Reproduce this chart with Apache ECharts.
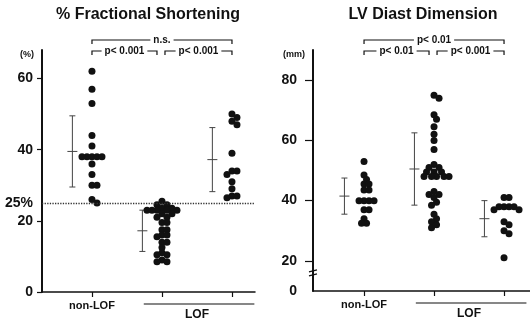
<!DOCTYPE html>
<html>
<head>
<meta charset="utf-8">
<script src="https://cdn.jsdelivr.net/npm/echarts@6/dist/echarts.min.js"></script>
<style>
  html, body { margin: 0; padding: 0; background: #fff; }
  #main { width: 530px; height: 322px; }
</style>
</head>
<body>
<div id="main"></div>
<script>
// groups on the x axis: 0 = non-LOF, 1 and 2 = LOF
const groupNames = ['non-LOF', 'LOF']

// % fractional shortening
const fsNonLof = [62, 57, 53, 44, 41, 38, 38, 38, 38, 38, 36, 33, 30, 30, 26, 25]
const fsLof1 = [25.5, 24.5, 24.5, 23.5, 23.5, 23, 23, 23, 23, 23, 22, 22, 21, 21, 19.5, 19.5, 17.5, 17.5, 16, 16, 15.5, 14, 14, 12.5, 11, 10.5, 10.5, 9, 8.5, 8.5]
const fsLof2 = [50, 49, 48, 47, 39, 34, 34, 33, 31, 29, 27, 27, 26.5]
const fsMean = [39.5, 17.2, 37.2]
const fsSd = [10, 5.8, 9]
const fsTicks = [0, 20, 40, 60]
const fsCutoff = 25

// LV diastolic dimension, mm
const ldNonLof = [53, 48.5, 47, 45.5, 45.5, 43.5, 43.5, 40, 40, 40, 40, 37, 37, 34, 32.5, 32.5]
const ldLof1 = [75, 74, 68.5, 67, 64.5, 62, 60, 57, 52, 51, 51, 49.5, 49.5, 49.5, 48, 48, 48, 48, 48, 43, 42, 42, 41, 39.5, 38.5, 35.5, 34, 33, 32, 31]
const ldLof2 = [41, 41, 38, 38, 38, 38, 37, 37, 33, 32, 30, 29, 21]
const ldMean = [41.5, 50.5, 34]
const ldSd = [6, 12, 6]
const ldTicks = [20, 40, 60, 80]

// comparisons: [from group, to group, label, row]
const fsTests = [[0, 2, 'n.s.', 0], [0, 1, 'p< 0.001', 1], [1, 2, 'p< 0.001', 1]]
const ldTests = [[0, 2, 'p< 0.01', 0], [0, 1, 'p< 0.01', 1], [1, 2, 'p< 0.001', 1]]

const FONT = '"Liberation Sans", Arial, sans-serif'
const INK = '#111'

// layout of the two panels
const panels = [
  { left: 42, top: 50, width: 213, height: 242, xMin: -0.714, xMax: 2.329, yMin: 0, yMax: 68 },
  { left: 313, top: 50, width: 217, height: 241, xMin: -0.729, xMax: 2.371, yMin: 10, yMax: 90 }
]

// simple beeswarm so that dots with close values sit side by side
function swarm(values, center, p) {
  const pxX = p.width / (p.xMax - p.xMin)
  const pxY = p.height / (p.yMax - p.yMin)
  const d = 5
  const placed = []
  return values.map(v => {
    const y = v * pxY
    let x = 0
    for (let k = 0; k < 40; k++) {
      const cands = k === 0 ? [0] : [k, -k]
      const hit = cands.find(c => placed.every(q => Math.hypot(q[0] - c * d / 2, q[1] - y) >= d))
      if (hit !== undefined) { x = hit * d / 2; break }
    }
    placed.push([x, y])
    return [center + x / pxX, v]
  })
}

function dots(groups, idx) {
  return {
    type: 'scatter',
    xAxisIndex: idx,
    yAxisIndex: idx,
    symbolSize: 7,
    itemStyle: { color: INK, opacity: 1 },
    silent: true,
    data: groups.flatMap((vals, g) => swarm(vals, g, panels[idx]))
  }
}

function errBars(mean, sd, idx) {
  return {
    type: 'custom',
    xAxisIndex: idx,
    yAxisIndex: idx,
    silent: true,
    data: mean.map((m, g) => [g - 0.28, m, sd[g]]),
    renderItem: (params, api) => {
      const x = api.value(0), m = api.value(1), s = api.value(2)
      const top = api.coord([x, m + s])
      const mid = api.coord([x, m])
      const bot = api.coord([x, m - s])
      const st = { stroke: '#444', lineWidth: 1 }
      return {
        type: 'group',
        children: [
          { type: 'line', shape: { x1: top[0], y1: top[1], x2: bot[0], y2: bot[1] }, style: st },
          { type: 'line', shape: { x1: top[0] - 3, y1: top[1], x2: top[0] + 3, y2: top[1] }, style: st },
          { type: 'line', shape: { x1: bot[0] - 3, y1: bot[1], x2: bot[0] + 3, y2: bot[1] }, style: st },
          { type: 'line', shape: { x1: mid[0] - 5, y1: mid[1], x2: mid[0] + 5, y2: mid[1] }, style: st }
        ]
      }
    }
  }
}

function xAxis(idx) {
  const p = panels[idx]
  return {
    type: 'value', gridIndex: idx, min: p.xMin, max: p.xMax,
    splitLine: { show: false },
    axisLine: { onZero: false, lineStyle: { color: INK, width: 1.5 } },
    axisTick: { customValues: [0, 1, 2], length: 5, lineStyle: { color: INK, width: 1.2 } },
    axisLabel: { customValues: [0], margin: 8, color: INK, fontFamily: FONT, fontSize: 11, fontWeight: 'bold',
      formatter: () => groupNames[0] }
  }
}

function yAxis(idx, ticks, extra, fmt, tickLen, margin) {
  const p = panels[idx]
  return {
    type: 'value', gridIndex: idx, min: p.yMin, max: p.yMax,
    splitLine: { show: false },
    axisLine: { onZero: false, lineStyle: { color: INK, width: 2 } },
    axisTick: { customValues: ticks, length: tickLen, lineStyle: { color: INK, width: 1.2 } },
    axisLabel: { customValues: ticks.concat(extra), margin: margin, color: INK, fontFamily: FONT,
      fontSize: 14, fontWeight: 'bold', formatter: fmt }
  }
}

const chart = echarts.init(document.getElementById('main'))

const fsDots = dots([fsNonLof, fsLof1, fsLof2], 0)
fsDots.markLine = {
  silent: true, symbol: 'none', label: { show: false },
  lineStyle: { type: 'dotted', color: '#333', width: 1.3 },
  data: [{ yAxis: fsCutoff }]
}

chart.setOption({
  animation: false,
  grid: panels.map(p => ({ left: p.left, top: p.top, width: p.width, height: p.height })),
  xAxis: [xAxis(0), xAxis(1)],
  yAxis: [
    yAxis(0, fsTicks, [fsCutoff], v => v === fsCutoff ? fsCutoff + '%' : String(v), 5, 9),
    yAxis(1, ldTicks, [panels[1].yMin], v => v === panels[1].yMin ? '0' : String(v), 8, 16)
  ],
  series: [
    fsDots,
    errBars(fsMean, fsSd, 0),
    dots([ldNonLof, ldLof1, ldLof2], 1),
    errBars(ldMean, ldSd, 1)
  ]
})

// annotations: titles, units, LOF bracket, significance brackets, axis break
const titles = ['% Fractional Shortening', 'LV Diast Dimension']
const units = ['(%)', '(mm)']
const tests = [fsTests, ldTests]
const g = []

panels.forEach((p, i) => {
  const px = v => chart.convertToPixel({ gridIndex: i }, [v, p.yMin])[0]
  const titleX = i === 0 ? 148 : 423
  g.push({ type: 'text', x: titleX, y: 15, style: { text: titles[i], font: 'bold 16px ' + FONT, fill: INK,
    align: 'center', verticalAlign: 'middle' } })
  g.push({ type: 'text', x: p.left - 8, y: p.top + 5, style: { text: units[i], font: 'bold 9px ' + FONT, fill: INK,
    align: 'right', verticalAlign: 'middle' } })

  // LOF label under a line spanning groups 1 and 2
  const base = p.top + p.height
  g.push({ type: 'line', shape: { x1: px(0.74), y1: base + 12, x2: px(2.32), y2: base + 12 },
    style: { stroke: INK, lineWidth: 1.2 } })
  g.push({ type: 'text', x: px(1.5), y: base + 23, style: { text: groupNames[1], font: 'bold 12px ' + FONT,
    fill: INK, align: 'center', verticalAlign: 'middle' } })

  tests[i].forEach(([a, b, label, row]) => {
    const y = row === 0 ? p.top - 10 : p.top + 1
    let x1 = px(a), x2 = px(b)
    if (row === 1) { if (a > 0) x1 += 3; if (b < 2) x2 -= 5 }
    g.push({ type: 'polyline', shape: { points: [[x1, y + 4], [x1, y], [x2, y], [x2, y + 4]] },
      style: { stroke: INK, lineWidth: 1.2, fill: null } })
    g.push({ type: 'text', x: (x1 + x2) / 2, y: y, style: { text: label, font: 'bold 10px ' + FONT, fill: INK,
      align: 'center', verticalAlign: 'middle', backgroundColor: '#fff', padding: [0, 3] } })
  })
})

// break mark on the right value axis
const br = chart.convertToPixel({ gridIndex: 1 }, [panels[1].xMin, 16])
g.push({ type: 'rect', shape: { x: br[0] - 3, y: br[1] - 2, width: 6, height: 4 }, style: { fill: '#fff' } })
g.push({ type: 'line', shape: { x1: br[0] - 4, y1: br[1] - 1, x2: br[0] + 4, y2: br[1] - 3 }, style: { stroke: INK, lineWidth: 1.3 } })
g.push({ type: 'line', shape: { x1: br[0] - 4, y1: br[1] + 3, x2: br[0] + 4, y2: br[1] + 1 }, style: { stroke: INK, lineWidth: 1.3 } })

chart.setOption({ graphic: g })
</script>
</body>
</html>
